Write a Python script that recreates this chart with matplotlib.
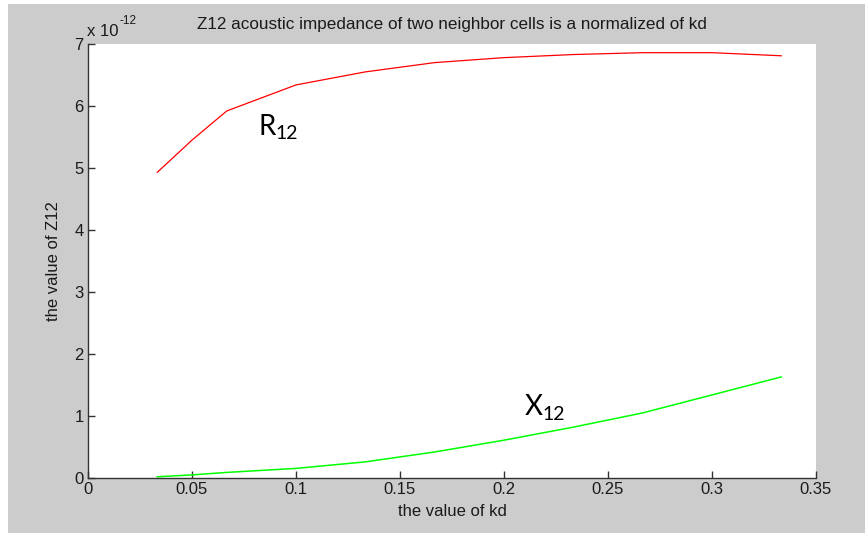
import matplotlib
matplotlib.use("Agg")
import matplotlib.pyplot as plt
from matplotlib.ticker import FuncFormatter, FixedLocator
from matplotlib.patches import Rectangle

# ---- data ----
kd = [0.0333, 0.05, 0.0667, 0.1, 0.1333, 0.1667, 0.2, 0.2333, 0.2667, 0.3, 0.3333]
R12 = [4.93, 5.45, 5.92, 6.34, 6.55, 6.70, 6.78, 6.83, 6.86, 6.86, 6.81]
X12 = [0.02, 0.05, 0.09, 0.155, 0.26, 0.42, 0.61, 0.82, 1.05, 1.34, 1.63]
scale = 1e-12
xticks = [0, 0.05, 0.1, 0.15, 0.2, 0.25, 0.3, 0.35]
xticklabels = ["0", "0.05", "0.1", "0.15", "0.2", "0.25", "0.3", "0.35"]
yticks = [0, 1, 2, 3, 4, 5, 6, 7]
title = "Z12 acoustic impedance of two neighbor cells is a normalized of kd"
xlabel = "the value of kd"
ylabel = "the value of Z12"

plt.rcParams['font.family'] = ['Liberation Sans', 'DejaVu Sans']

W, H = 865, 533
fig = plt.figure(figsize=(W / 100, H / 100), dpi=100, facecolor='white')
fig.patches.append(Rectangle((8 / W, 0), 1, 1 - 4 / H, transform=fig.transFigure,
                             facecolor='#cccccc', edgecolor='none', zorder=-10))

ax = fig.add_axes([88 / W, 1 - 478 / H, (816 - 88) / W, (478 - 44) / H])
ax.set_facecolor('white')

ax.plot(kd, [v * scale for v in R12], color='#ff0000', lw=0.9)
ax.plot(kd, [v * scale for v in X12], color='#00ff00', lw=1.1)

ax.set_xlim(0, 0.35)
ax.set_ylim(0, 7 * scale)
ax.xaxis.set_major_locator(FixedLocator(xticks))
ax.set_xticklabels(xticklabels)
ax.yaxis.set_major_locator(FixedLocator([t * scale for t in yticks]))
ax.yaxis.set_major_formatter(FuncFormatter(lambda v, p: f"{v / scale:.0f}"))

for s in ['top', 'right']:
    ax.spines[s].set_visible(False)
for s in ['left', 'bottom']:
    ax.spines[s].set_color('#333333')
    ax.spines[s].set_linewidth(1.0)
ax.tick_params(direction='in', length=5, width=1, color='#333333',
               labelsize=12, labelcolor='#1a1a1a', pad=3)

ax.set_title(title, fontsize=12.3, color='#1a1a1a', pad=11)
ax.set_xlabel(xlabel, fontsize=12, color='#1a1a1a', labelpad=5)
ax.set_ylabel(ylabel, fontsize=12, color='#1a1a1a', labelpad=10)

# exponent label (MATLAB style)
fig.text(87 / W, 1 - 36 / H, "x 10", fontsize=12, color='#1a1a1a', va='baseline', ha='left')
fig.text(120 / W, 1 - 24 / H, "-12", fontsize=8.5, color='#1a1a1a', va='baseline', ha='left')

# annotations
ax.text(0.0820, 5.54 * scale, "R", fontsize=20, family='Lato', va='baseline', ha='left')
ax.text(0.0903, 5.47 * scale, "12", fontsize=14, family='Lato', va='baseline', ha='left')
ax.text(0.210, 1.01 * scale, "X", fontsize=20, family='Lato', va='baseline', ha='left')
ax.text(0.2187, 0.93 * scale, "12", fontsize=14, family='Lato', va='baseline', ha='left')

fig.savefig("out.png", dpi=100, facecolor=fig.get_facecolor())
